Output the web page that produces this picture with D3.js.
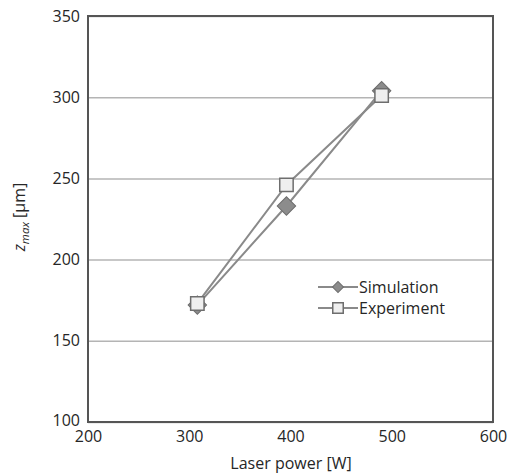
<!DOCTYPE html>
<html>
<head>
<meta charset="utf-8">
<script src="https://cdn.jsdelivr.net/npm/d3@7"></script>
<style>
  html, body { margin: 0; padding: 0; background: #fff; }
  svg { display: block; font-family: "Open Sans", "Liberation Sans", sans-serif; }
</style>
</head>
<body>
<svg id="chart" width="514" height="475"></svg>
<script>
// Laser power [W] against peak height z_max [µm]
const seriesNames = ["Simulation", "Experiment"];
const laserPower = [308, 396, 490];
const simulation = [172, 233, 304];
const experiment = [173, 246, 301];
const xTicks = [200, 300, 400, 500, 600];
const yTicks = [100, 150, 200, 250, 300, 350];

const svg = d3.select("#chart");
const margin = { left: 88, right: 21, top: 16, bottom: 53 };
const W = 514, H = 475;
const fontSize = 16;
const textColor = "#262626";

const x = d3.scaleLinear().domain([200, 600]).range([margin.left, W - margin.right]);
const y = d3.scaleLinear().domain([100, 350]).range([H - margin.bottom, margin.top]);

// horizontal gridlines
svg.append("g")
  .attr("transform", `translate(${margin.left},0)`)
  .call(d3.axisLeft(y).tickValues(yTicks).tickSize(-(W - margin.left - margin.right)).tickFormat(""))
  .call(g => g.select(".domain").remove())
  .call(g => g.selectAll("line").attr("stroke", "#b4b4b4").attr("stroke-width", 1.5));

// tick labels
const yAxis = svg.append("g")
  .attr("transform", `translate(${margin.left},0)`)
  .call(d3.axisLeft(y).tickValues(yTicks).tickSize(0).tickPadding(8).tickFormat(d3.format("d")));
yAxis.select(".domain").remove();
yAxis.selectAll("text").attr("font-size", fontSize).attr("fill", textColor)
  .style("font-family", "Open Sans, sans-serif");
// lowest label sits a little higher so it clears the "200" below it
yAxis.selectAll(".tick").filter(d => d === 100).select("text").attr("dy", "0.2em");

const xAxis = svg.append("g")
  .attr("transform", `translate(0,${H - margin.bottom})`)
  .call(d3.axisBottom(x).tickValues(xTicks).tickSize(0).tickPadding(9).tickFormat(d3.format("d")));
xAxis.select(".domain").remove();
xAxis.selectAll("text").attr("font-size", fontSize).attr("fill", textColor)
  .style("font-family", "Open Sans, sans-serif");

// plot frame
svg.append("rect")
  .attr("x", margin.left).attr("y", margin.top)
  .attr("width", W - margin.left - margin.right)
  .attr("height", H - margin.top - margin.bottom)
  .attr("fill", "none").attr("stroke", "#555").attr("stroke-width", 2);

// axis titles
svg.append("text")
  .attr("x", 291).attr("y", 469)
  .attr("text-anchor", "middle").attr("font-size", fontSize).attr("fill", textColor)
  .text("Laser power [W]");

const yt = svg.append("text")
  .attr("transform", `translate(25,${217}) rotate(-90)`)
  .attr("text-anchor", "middle").attr("font-size", fontSize).attr("fill", textColor);
yt.append("tspan").attr("font-style", "italic").text("z");
yt.append("tspan").attr("font-style", "italic").attr("font-size", 11.5).attr("dy", 4).text("max");
yt.append("tspan").attr("dy", -4).text(" [\u00b5m]");

const line = d3.line().x(d => x(d[0])).y(d => y(d[1]));
const simPts = laserPower.map((p, i) => [p, simulation[i]]);
const expPts = laserPower.map((p, i) => [p, experiment[i]]);

const lineColor = "#8a8a8a";
svg.append("path").datum(simPts).attr("d", line)
  .attr("fill", "none").attr("stroke", lineColor).attr("stroke-width", 2);
svg.append("path").datum(expPts).attr("d", line)
  .attr("fill", "none").attr("stroke", lineColor).attr("stroke-width", 2);

function drawDiamond(g, cx, cy, s) {
  g.append("path")
    .attr("d", d3.symbol().type(d3.symbolSquare).size(s)())
    .attr("transform", `translate(${cx},${cy}) rotate(45)`)
    .attr("fill", "#8c8c8c").attr("stroke", "#6e6e6e").attr("stroke-width", 1);
}
function drawSquare(g, cx, cy, s) {
  g.append("path")
    .attr("d", d3.symbol().type(d3.symbolSquare).size(s)())
    .attr("transform", `translate(${cx},${cy})`)
    .attr("fill", "#efefef").attr("stroke", "#6e6e6e").attr("stroke-width", 1.5);
}

const marks = svg.append("g");
simPts.forEach(d => drawDiamond(marks, x(d[0]), y(d[1]), 170));
expPts.forEach(d => drawSquare(marks, x(d[0]), y(d[1]), 180));

// legend
const legend = svg.append("g");
const legendRows = [
  { name: seriesNames[0], yPos: 287, draw: (cx, cy) => drawDiamond(legend, cx, cy, 60) },
  { name: seriesNames[1], yPos: 308, draw: (cx, cy) => drawSquare(legend, cx, cy, 110) }
];
legendRows.forEach(r => {
  legend.append("line").attr("x1", 318).attr("x2", 358).attr("y1", r.yPos).attr("y2", r.yPos)
    .attr("stroke", lineColor).attr("stroke-width", 2);
  r.draw(338, r.yPos);
  legend.append("text").attr("x", 359).attr("y", r.yPos + 6)
    .attr("font-size", fontSize).attr("fill", textColor).text(r.name);
});
</script>
</body>
</html>
